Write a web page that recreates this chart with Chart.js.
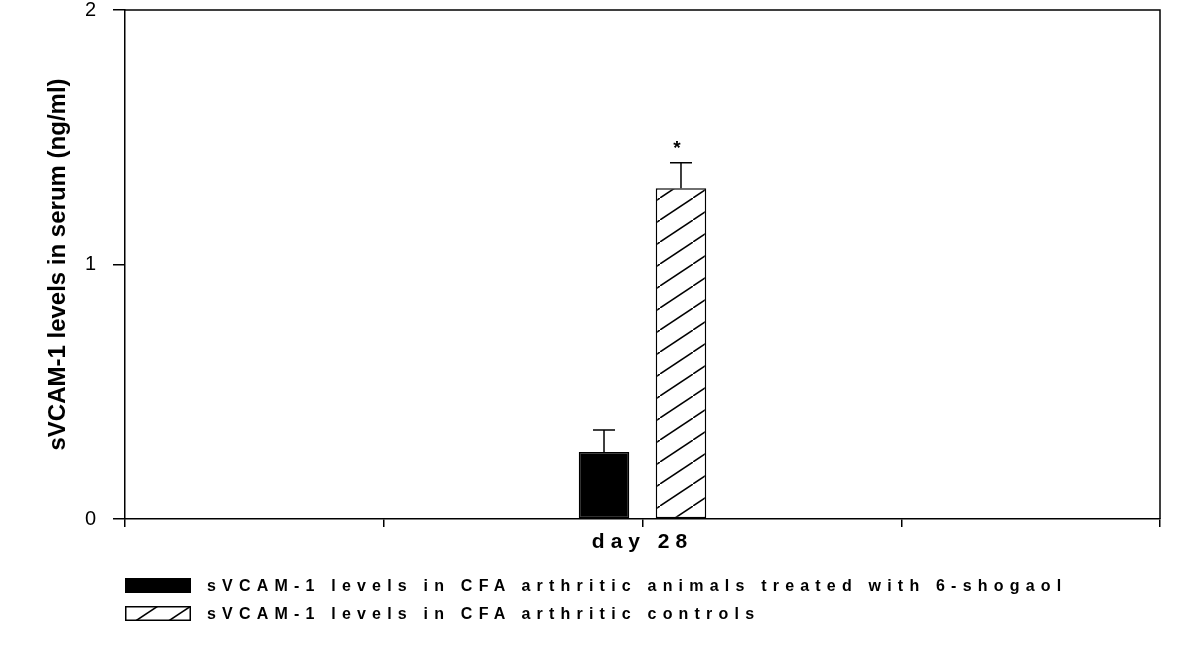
<!DOCTYPE html>
<html>
<head>
<meta charset="utf-8">
<script src="https://cdn.jsdelivr.net/npm/chart.js@4.4.1/dist/chart.umd.min.js"></script>
<style>
  html, body { margin: 0; padding: 0; background: #fff; }
  #wrap { position: relative; width: 1200px; height: 669px; }
  #legend {
    position: absolute; left: 125px; top: 578px;
    font-family: "Liberation Sans", Arial, sans-serif;
    font-weight: bold; font-size: 16px; letter-spacing: 6.2px; color: #000;
  }
  .row { display: flex; align-items: center; height: 15px; margin-bottom: 13px; }
  .row canvas { margin-right: 16px; }
</style>
</head>
<body>
<div id="wrap">
  <canvas id="chart"></canvas>
  <div id="legend"></div>
</div>
<script>
// données
const categories = ["", "", "day 28", "", ""];
const treated = [null, null, 0.263, null, null];
const treatedErr = [null, null, 0.087, null, null];
const controls = [null, null, 1.3, null, null];
const controlsErr = [null, null, 0.1, null, null];
const controlsMarks = ["", "", "*", "", ""];
const yTicks = [0, 1, 2];
const seriesNames = [
  "sVCAM-1 levels in CFA arthritic animals treated with 6-shogaol",
  "sVCAM-1 levels in CFA arthritic controls",
];

const FONT = "'Liberation Sans', Arial, sans-serif";

// motif hachuré "/"
function makeHatch() {
  const w = 33, h = 22;
  const c = document.createElement("canvas");
  c.width = w;
  c.height = h;
  const g = c.getContext("2d");
  g.fillStyle = "#fff";
  g.fillRect(0, 0, w, h);
  g.strokeStyle = "#000";
  g.lineWidth = 1.5;
  g.beginPath();
  g.moveTo(-w * 0.2, h * 1.2);
  g.lineTo(w * 1.2, -h * 0.2);
  g.stroke();
  return c;
}
const hatchTile = makeHatch();
const ctx = document.getElementById("chart").getContext("2d");
const hatch = ctx.createPattern(hatchTile, "repeat");

// barres d'erreur + astérisque
const errorBars = {
  id: "errorBars",
  afterDatasetsDraw(chart) {
    const c = chart.ctx;
    const y = chart.scales.y;
    const errs = [treatedErr, controlsErr];
    const marks = [null, controlsMarks];
    chart.data.datasets.forEach((ds, di) => {
      const meta = chart.getDatasetMeta(di);
      meta.data.forEach((bar, i) => {
        const v = ds.data[i];
        if (v === null) return;
        const top = y.getPixelForValue(v + errs[di][i]);
        c.save();
        c.strokeStyle = "#000";
        c.lineWidth = 1.5;
        c.beginPath();
        c.moveTo(bar.x, y.getPixelForValue(v));
        c.lineTo(bar.x, top);
        c.moveTo(bar.x - 11, top);
        c.lineTo(bar.x + 11, top);
        c.stroke();
        if (marks[di] && marks[di][i]) {
          c.fillStyle = "#000";
          c.font = "bold 19px " + FONT;
          c.textAlign = "center";
          c.textBaseline = "bottom";
          c.fillText(marks[di][i], bar.x - 4, top - 4);
        }
        c.restore();
      });
    });
  },
};

// cadre autour de la zone du graphique
const frame = {
  id: "frame",
  afterDraw(chart) {
    const a = chart.chartArea;
    const c = chart.ctx;
    c.save();
    c.strokeStyle = "#000";
    c.lineWidth = 1.5;
    c.beginPath();
    c.moveTo(a.left, a.top);
    c.lineTo(a.right, a.top);
    c.lineTo(a.right, a.bottom);
    c.stroke();
    c.restore();
  },
};

// espacement des lettres pour l'étiquette de l'axe x
const spacedX = {
  id: "spacedX",
  afterUpdate(chart) {
    const sx = chart.scales.x;
    if (sx._spaced) return;
    const orig = sx.drawLabels;
    sx.drawLabels = function (area) {
      this.ctx.save();
      this.ctx.letterSpacing = "6px";
      orig.call(this, area);
      this.ctx.restore();
    };
    sx._spaced = true;
  },
};

new Chart(ctx, {
  type: "bar",
  data: {
    labels: categories,
    datasets: [
      {
        label: seriesNames[0],
        data: treated,
        backgroundColor: "#000",
        borderColor: "#000",
        borderWidth: 1.5,
        borderSkipped: false,
      },
      {
        label: seriesNames[1],
        data: controls,
        backgroundColor: hatch,
        borderColor: "#000",
        borderWidth: 1.5,
        borderSkipped: false,
      },
    ],
  },
  options: {
    responsive: true,
    maintainAspectRatio: false,
    animation: false,
    layout: { padding: { top: 10, right: 40, left: 0, bottom: 0 } },
    datasets: { bar: { categoryPercentage: 0.595, barPercentage: 0.656 } },
    plugins: { legend: { display: false }, tooltip: { enabled: false } },
    scales: {
      x: {
        offset: false,
        grid: { offset: false, drawOnChartArea: false, tickLength: 8, color: "#000", lineWidth: 1.5 },
        border: { color: "#000", width: 1.5 },
        ticks: {
          color: "#000",
          font: { family: FONT, size: 21, weight: "bold" },
          padding: 3,
          maxRotation: 0,
          autoSkip: false,
        },
        afterFit(scale) {
          scale.height = 150;
          scale.paddingLeft = 0;
          scale.paddingRight = 0;
        },
      },
      y: {
        min: 0,
        max: 2,
        afterBuildTicks(scale) {
          scale.ticks = yTicks.map((v) => ({ value: v }));
        },
        grid: { drawOnChartArea: false, tickLength: 12, color: "#000", lineWidth: 1.5 },
        border: { color: "#000", width: 1.5 },
        ticks: {
          color: "#000",
          font: { family: FONT, size: 20 },
          padding: 17,
        },
        title: {
          display: true,
          text: "sVCAM-1 levels in serum (ng/ml)",
          color: "#000",
          font: { family: FONT, size: 24, weight: "bold" },
          padding: { top: 44, bottom: 0 },
        },
        afterFit(scale) {
          scale.width = 125;
          scale.paddingTop = 0;
          scale.paddingBottom = 0;
        },
      },
    },
  },
  plugins: [errorBars, frame, spacedX],
});

// légende HTML
const legend = document.getElementById("legend");
seriesNames.forEach((name, i) => {
  const row = document.createElement("div");
  row.className = "row";
  const sw = document.createElement("canvas");
  sw.width = 66;
  sw.height = 15;
  const g = sw.getContext("2d");
  if (i === 0) {
    g.fillStyle = "#000";
    g.fillRect(0, 0, 66, 15);
  } else {
    g.fillStyle = g.createPattern(hatchTile, "repeat");
    g.fillRect(0, 0, 66, 15);
    g.strokeStyle = "#000";
    g.lineWidth = 1.5;
    g.strokeRect(0.75, 0.75, 64.5, 13.5);
  }
  const txt = document.createElement("span");
  txt.textContent = name;
  row.appendChild(sw);
  row.appendChild(txt);
  legend.appendChild(row);
});
</script>
</body>
</html>
